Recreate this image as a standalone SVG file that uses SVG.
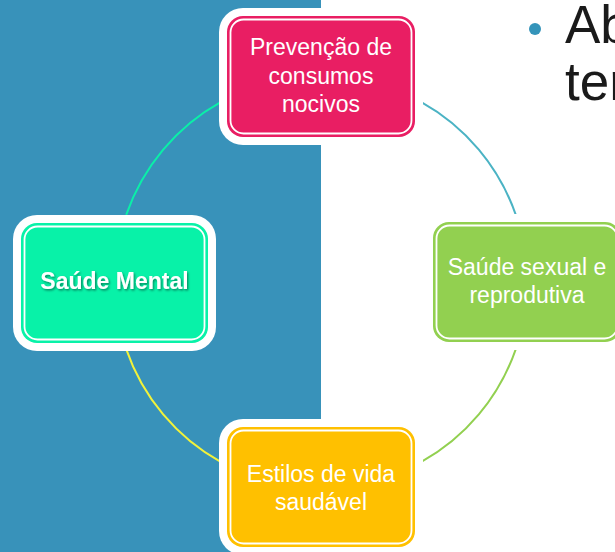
<svg xmlns="http://www.w3.org/2000/svg" width="615" height="552" viewBox="0 0 615 552">
  <defs>
    <style>
      .frame { fill: #ffffff; }
      .inner { fill: none; stroke: #ffffff; stroke-width: 1.8; }
      .lbl { font-family: "Liberation Sans", Arial, sans-serif; font-size: 23px; fill: #ffffff; text-anchor: middle; }
      .bold { font-weight: bold; }
      .conn { fill: none; stroke-width: 2; }
      .big { font-family: "Liberation Sans", Arial, sans-serif; font-size: 53px; fill: #1a1a1a; }
    </style>
    <filter id="shadow" x="-10%" y="-30%" width="120%" height="160%">
      <feDropShadow dx="1.2" dy="1.5" stdDeviation="0.8" flood-color="#000000" flood-opacity="0.45"/>
    </filter>
  </defs>

  <rect x="0" y="0" width="321" height="552" fill="#3892BA"/>

  <g id="bullet-text">
    <circle cx="535" cy="29" r="6" fill="#3494BA"/>
    <text class="big" x="565" y="43">Ab</text>
    <text class="big" x="565" y="100">ter</text>
  </g>

  <g id="connectors">
    <path class="conn" stroke="#4BB3C4" d="M420.9,101.8 A206,206 0 0 1 515.8,214.9"/>
    <path class="conn" stroke="#92D050" d="M515.8,349.1 A206,206 0 0 1 420.9,462.2"/>
    <path class="conn" stroke="#F2F23A" d="M221.1,462.2 A206,206 0 0 1 126.2,349.1"/>
    <path class="conn" stroke="#0AF0A8" d="M126.2,214.9 A206,206 0 0 1 221.1,101.8"/>
  </g>

  <g id="node-prevencao">
    <rect class="frame" x="219" y="8" width="204" height="137" rx="24"/>
    <rect x="227" y="16" width="188" height="121" rx="16" fill="#E91E63"/>
    <rect class="inner" x="230.5" y="19.5" width="181" height="114" rx="13"/>
    <text class="lbl" x="321" y="55">Prevenção de</text>
    <text class="lbl" x="321" y="83.5">consumos</text>
    <text class="lbl" x="321" y="112">nocivos</text>
  </g>

  <g id="node-mental">
    <rect class="frame" x="13" y="215" width="203" height="136" rx="24"/>
    <rect x="21" y="223" width="187" height="120" rx="16" fill="#08F2A8"/>
    <rect class="inner" x="24.5" y="226.5" width="180" height="113" rx="13"/>
    <text class="lbl bold" x="114.5" y="289" filter="url(#shadow)">Saúde Mental</text>
  </g>

  <g id="node-sexual">
    <rect class="frame" x="425" y="214" width="204" height="136" rx="24"/>
    <rect x="433" y="222" width="188" height="120" rx="16" fill="#92D050"/>
    <rect class="inner" x="436.5" y="225.5" width="181" height="113" rx="13"/>
    <text class="lbl" x="527" y="275">Saúde sexual e</text>
    <text class="lbl" x="527" y="303">reprodutiva</text>
  </g>

  <g id="node-estilos">
    <rect class="frame" x="219" y="419" width="204" height="136" rx="24"/>
    <rect x="227" y="427" width="188" height="120" rx="16" fill="#FFC000"/>
    <rect class="inner" x="230.5" y="430.5" width="181" height="113" rx="13"/>
    <text class="lbl" x="321" y="482">Estilos de vida</text>
    <text class="lbl" x="321" y="510">saudável</text>
  </g>
</svg>
